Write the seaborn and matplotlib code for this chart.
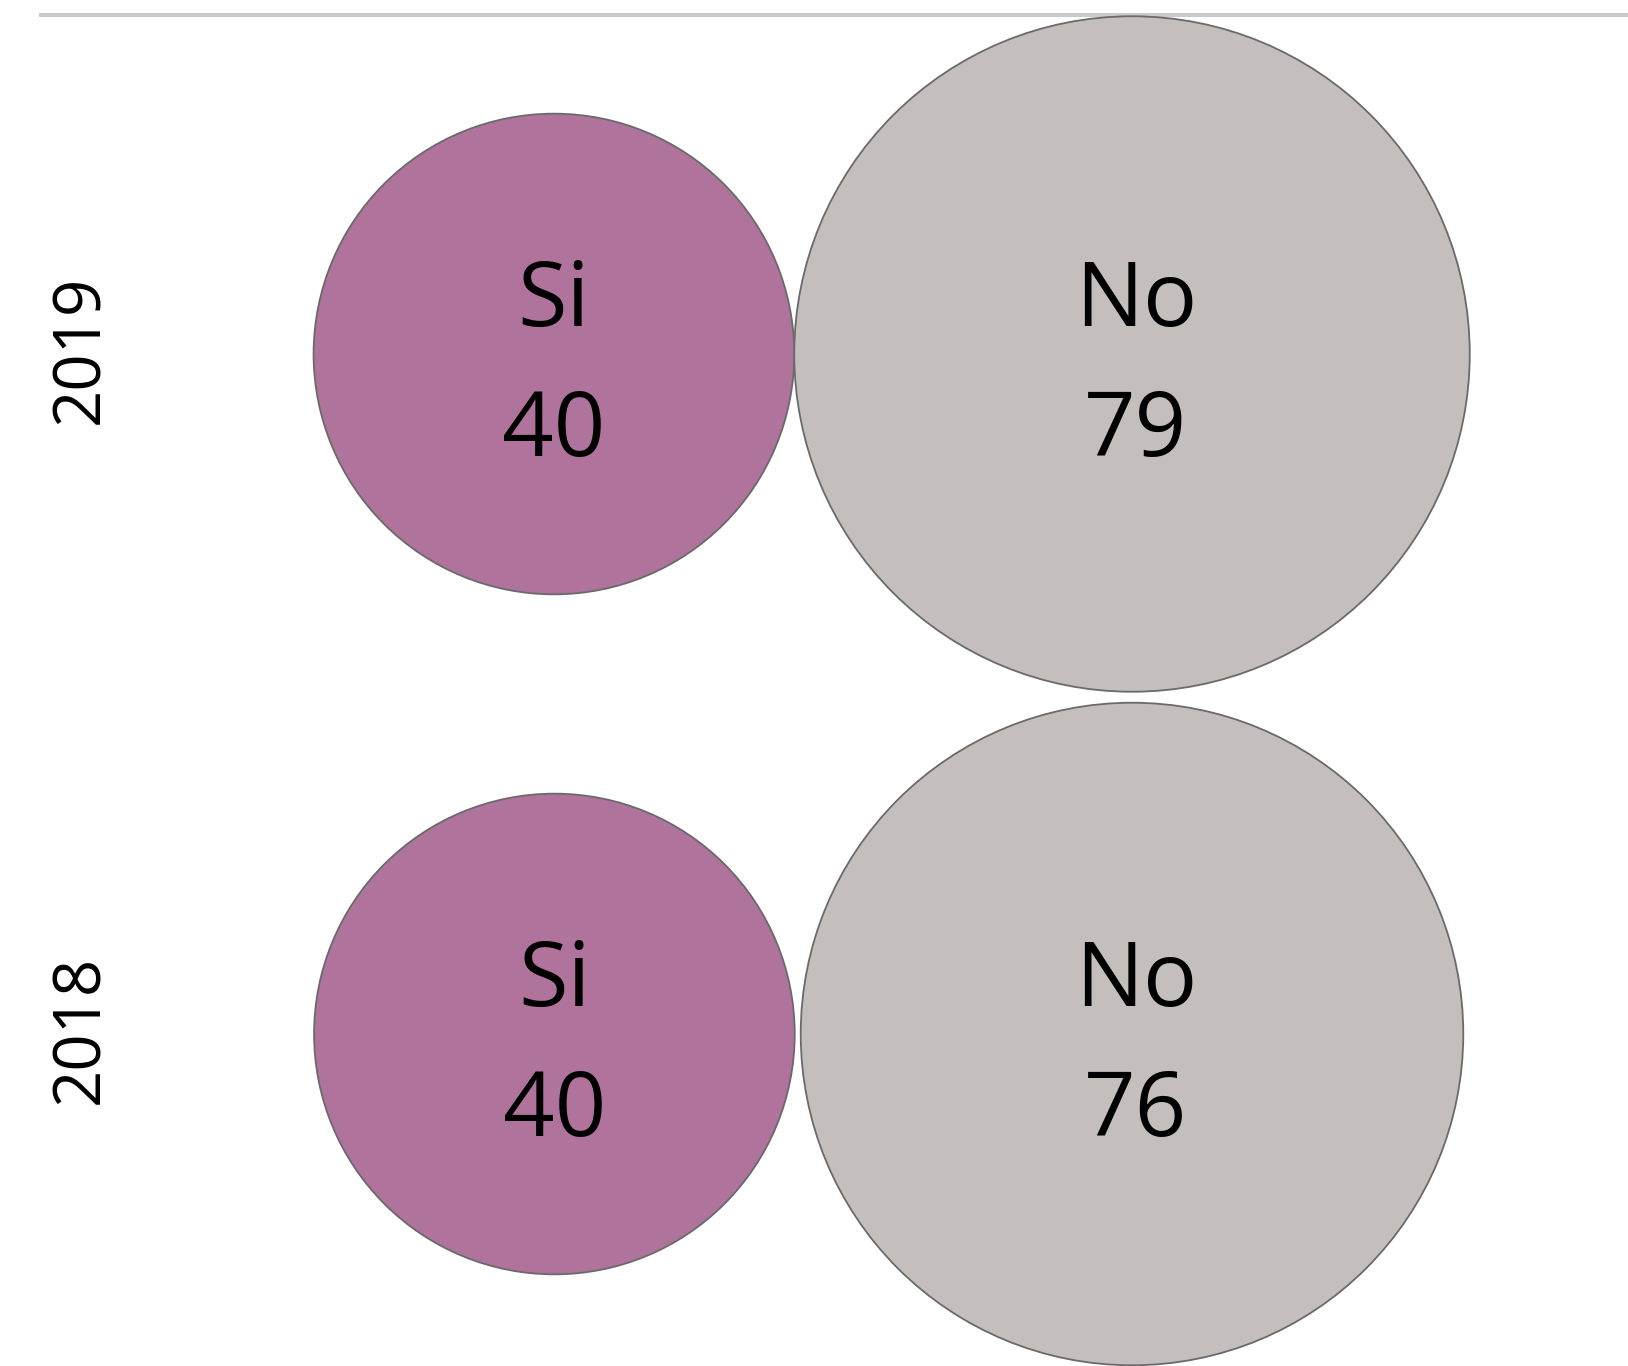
import numpy as np
import pandas as pd
import matplotlib
matplotlib.use("Agg")
import matplotlib.pyplot as plt
import seaborn as sns

# ---- data ----
years = ["2019", "2018"]
si_values = [40, 40]
no_values = [79, 76]
categories = ["Si", "No"]
colors = {"Si": "#B0739B", "No": "#C4BFBD"}

sns.set_theme(style="white")
plt.rcParams["font.family"] = ["Open Sans", "DejaVu Sans"]

W, H, DPI = 1628, 1366, 100
fig = plt.figure(figsize=(W / DPI, H / DPI), dpi=DPI)
ax = fig.add_axes([0, 0, 1, 1])
ax.set_xlim(0, W)
ax.set_ylim(H, 0)
ax.axis("off")

# layout (pixels): radius proportional to sqrt(value)
k = 38.0
row_y = [354, 1034]
no_x = 1132
gaps = [0, 6]

rows = []
for yr, s, n, cy, g in zip(years, si_values, no_values, row_y, gaps):
    r_no = k * np.sqrt(n)
    r_si = k * np.sqrt(s)
    si_x = no_x - r_no - r_si - g
    rows.append(dict(year=yr, cat="Si", value=s, x=si_x, y=cy, r=r_si))
    rows.append(dict(year=yr, cat="No", value=n, x=no_x, y=cy, r=r_no))
df = pd.DataFrame(rows)

px2pt = 72.0 / DPI
df["area"] = (2 * df["r"] * px2pt) ** 2
sizes = {v: a for v, a in zip(df["value"], df["area"])}

sns.scatterplot(data=df, x="x", y="y", hue="cat", palette=colors,
                size="value", sizes=sizes, legend=False, ax=ax,
                edgecolor="#6A6A6A", linewidth=1.3, alpha=1, zorder=2)

for _, row in df.iterrows():
    dx = 4 if row["cat"] == "No" else 0
    ax.text(row["x"] + dx, row["y"] - 28, row["cat"], ha="center", va="baseline",
            fontsize=65, color="black", zorder=3)
    ax.text(row["x"] + dx, row["y"] + 102, str(row["value"]), ha="center", va="baseline",
            fontsize=65, color="black", zorder=3)

for yr, cy in zip(years, row_y):
    ax.text(81, cy - 5, yr, rotation=90, ha="center", va="center",
            fontsize=47, color="black")

# top rule
ax.plot([39, W], [15, 15], color="#CACACA", linewidth=4 * px2pt, zorder=1,
        solid_capstyle="butt")

fig.savefig("out.png", dpi=DPI)
